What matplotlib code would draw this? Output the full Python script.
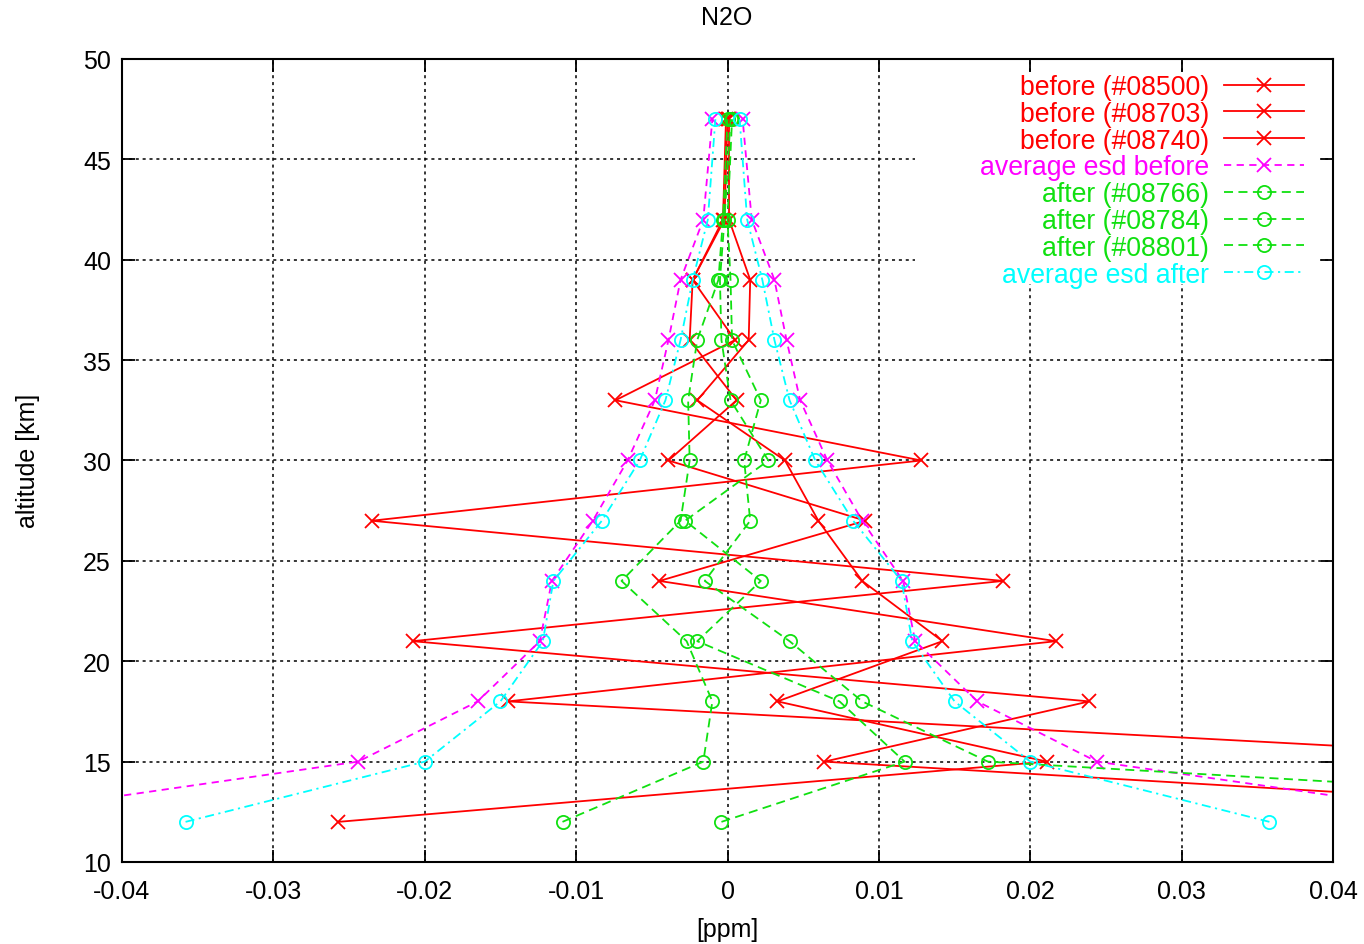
import numpy as np
import matplotlib
matplotlib.use("Agg")
import matplotlib.pyplot as plt
from matplotlib.patches import Rectangle

plt.rcParams['font.family'] = ['Liberation Sans', 'DejaVu Sans']

# ---- data ----
altitude = [12, 15, 18, 21, 24, 27, 30, 33, 36, 39, 42, 47]

before_08500 = [-0.0257, 0.0211, 0.0033, 0.0142, 0.0089, 0.0060, 0.0038, -0.0020, 0.0014, 0.0015, 0.0001, 0.0001]
before_08703 = [0.0700, 0.0598, -0.0145, 0.0217, -0.0045, 0.0091, -0.0039, 0.0006, -0.0025, -0.0023, -0.0003, -0.0001]
before_08740 = [0.0735, 0.0064, 0.0239, -0.0208, 0.0182, -0.0235, 0.0128, -0.0074, 0.0005, -0.0023, -0.0002, 0.0000]
esd_before = [0.0520, 0.0244, 0.0165, 0.0124, 0.0116, 0.0089, 0.0066, 0.0048, 0.0039, 0.0031, 0.0016, 0.0010]

after_08766 = [-0.0109, -0.0016, -0.0010, -0.0027, -0.0070, -0.0031, -0.0025, -0.0026, -0.0020, -0.0006, -0.0003, 0.0000]
after_08784 = [-0.0004, 0.0117, 0.0074, -0.0020, 0.0022, -0.0028, 0.0027, 0.0002, -0.0004, -0.0005, -0.0002, 0.0002]
after_08801 = [0.0855, 0.0172, 0.0089, 0.0041, -0.0015, 0.0015, 0.0011, 0.0022, 0.0003, 0.0002, 0.0000, 0.0003]
esd_after = [0.0358, 0.0200, 0.0150, 0.0122, 0.0115, 0.0083, 0.0058, 0.0041, 0.0031, 0.0023, 0.0013, 0.0008]

x_ticks = [-0.04, -0.03, -0.02, -0.01, 0.0, 0.01, 0.02, 0.03, 0.04]
x_tick_labels = ["-0.04", "-0.03", "-0.02", "-0.01", "0", "0.01", "0.02", "0.03", "0.04"]
y_ticks = [10, 15, 20, 25, 30, 35, 40, 45, 50]

RED = '#ff0000'
GREEN = '#10e010'
MAGENTA = '#ff00ff'
CYAN = '#00ffff'

fig = plt.figure(figsize=(13.64, 9.45), dpi=100)
ax = fig.add_axes([122/1364, 1-863/945, (1333-122)/1364, (863-60)/945])

alt = np.array(altitude)
lw = 1.3
red_kw = dict(color=RED, lw=lw, ls='-', marker='x', ms=10.5, mew=1.3)
mag_ls = (0, (4, 3))
grn_ls = (0, (5, 3))
cyn_ls = (0, (5, 2.5, 1.2, 2.5))

ax.plot(before_08500, alt, label='before (#08500)', **red_kw)
ax.plot(before_08703, alt, label='before (#08703)', **red_kw)
ax.plot(before_08740, alt, label='before (#08740)', **red_kw)

eb = np.array(esd_before)
ax.plot(-eb, alt, color=MAGENTA, lw=lw, ls=mag_ls, marker='x', ms=10.5, mew=1.3,
        label='average esd before')
ax.plot(eb, alt, color=MAGENTA, lw=lw, ls=mag_ls, marker='x', ms=10.5, mew=1.3)

grn_kw = dict(color=GREEN, lw=lw, ls=grn_ls, marker='o', ms=9.5, mew=1.3, fillstyle='none')
ax.plot(after_08766, alt, label='after (#08766)', **grn_kw)
ax.plot(after_08784, alt, label='after (#08784)', **grn_kw)
ax.plot(after_08801, alt, label='after (#08801)', **grn_kw)

ea = np.array(esd_after)
cyn_kw = dict(color=CYAN, lw=lw, ls=cyn_ls, marker='o', ms=9.5, mew=1.3, fillstyle='none')
ax.plot(-ea, alt, label='average esd after', **cyn_kw)
ax.plot(ea, alt, **cyn_kw)

ax.set_xlim(-0.04, 0.04)
ax.set_ylim(10, 50)
ax.set_xticks(x_ticks)
ax.set_xticklabels(x_tick_labels)
ax.set_yticks(y_ticks)

ax.set_axisbelow(True)
ax.grid(True, color='black', ls=(0, (2, 2.5)), lw=1.1)
ax.tick_params(direction='in', length=9, width=1.3, top=True, right=True,
               labelsize=18, colors='black', pad=8)
ax.tick_params(axis='x', pad=12)
for s in ax.spines.values():
    s.set_linewidth(1.5)

# white key area (interrupts the grid like gnuplot's key)
ax.add_patch(Rectangle((915/1364, 1-285/945), (1320-915)/1364, (285-73)/945,
                       transform=fig.transFigure, facecolor='white',
                       edgecolor='none', zorder=1))

leg = ax.legend(loc='upper right', bbox_to_anchor=(1304/1364, 1-75/945),
                bbox_transform=fig.transFigure, frameon=False, markerfirst=False,
                fontsize=19.2, labelcolor='linecolor', handlelength=3.0,
                handletextpad=0.55, labelspacing=0.03, borderaxespad=0, borderpad=0)
for t in leg.get_texts():
    t.set_ha('right')
leg._legend_box.align = 'right'

fig.text(727/1364, 1-18/945, 'N2O', ha='center', va='center', fontsize=18)
fig.text(727/1364, 1-930/945, '[ppm]', ha='center', va='center', fontsize=18)
fig.text(28/1364, 1-461/945, 'altitude [km]', ha='center', va='center',
         rotation=90, fontsize=18)

fig.savefig('out.png', dpi=100)
